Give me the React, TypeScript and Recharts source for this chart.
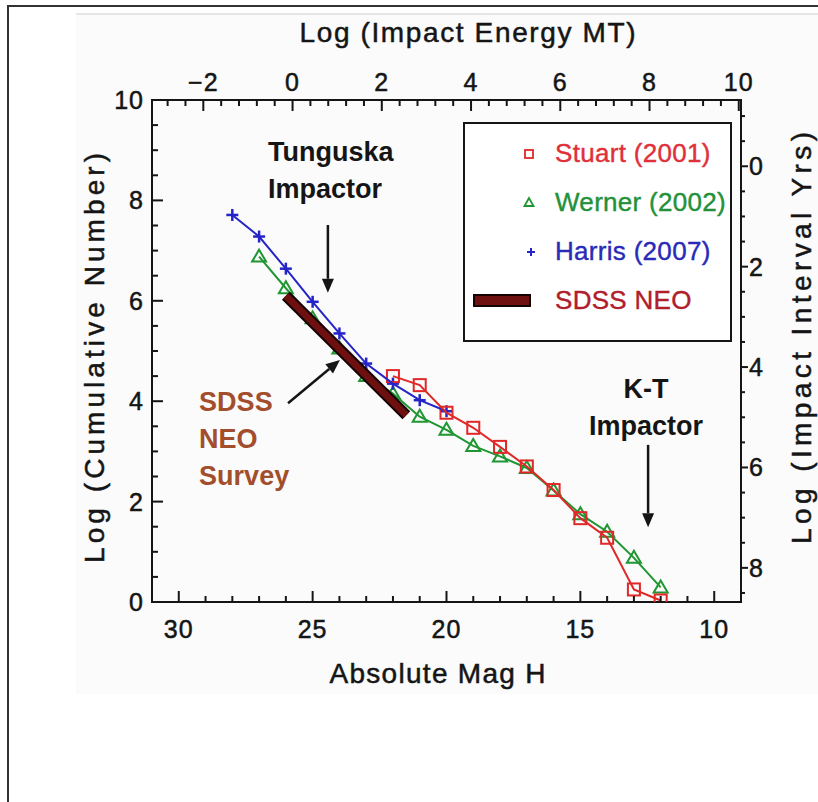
import React from "react";
import {
  ComposedChart,
  Line,
  XAxis,
  YAxis,
  Legend,
  Label,
  ReferenceLine,
  ReferenceDot,
} from "recharts";

// Absolute magnitude H (x) vs log cumulative number (y)
const harrisH = [28, 27, 26, 25, 24, 23, 22, 21, 20];
const harrisN = [7.71, 7.28, 6.64, 5.98, 5.35, 4.75, 4.35, 4.02, 3.8];

const wernerH = [27, 26, 25, 24, 23, 22, 21, 20, 19, 18, 17, 16, 15, 14, 13, 12];
const wernerN = [6.88, 6.25, 5.65, 5.05, 4.5, 4.15, 3.69, 3.43, 3.11, 2.9, 2.67, 2.22, 1.75, 1.4, 0.88, 0.29];

const stuartH = [22, 21, 20, 19, 18, 17, 16, 15, 14, 13, 12];
const stuartN = [4.5, 4.32, 3.77, 3.47, 3.09, 2.7, 2.23, 1.67, 1.28, 0.25, 0.03];

const sdssH = [26, 21.5];
const sdssN = [6.1, 3.72];

// axes
const hDomain = [9, 31];
const nDomain = [0, 10];
const energyDomain = [-3.15, 10.05]; // log E = 15.45 - 0.6 H
const intervalDomain = [-1.32, 8.68]; // log T = 8.68 - log N

const bottomLabels = [10, 15, 20, 25, 30];
const leftLabels = [0, 2, 4, 6, 8, 10];
const topLabels = [-2, 0, 2, 4, 6, 8, 10];
const rightLabels = [0, 2, 4, 6, 8];

const legendOrder = ["Stuart (2001)", "Werner (2002)", "Harris (2007)", "SDSS NEO"];

const annotations = [
  { h: 26.67, n: 8.78, lines: ["Tunguska", "Impactor"], color: "#151515", anchor: "start" },
  { h: 29.24, n: 3.8, lines: ["SDSS", "NEO", "Survey"], color: "#a24e2c", anchor: "start" },
  { h: 12.55, n: 4.06, lines: ["K-T", "Impactor"], color: "#151515", anchor: "middle" },
];

const arrows = [
  { h1: 24.43, n1: 7.51, h2: 24.43, n2: 6.16 },
  { h1: 25.92, n1: 3.96, h2: 23.98, n2: 4.82 },
  { h1: 12.47, n1: 3.13, h2: 12.47, n2: 1.49 },
];

const FONT = "'Liberation Sans', Arial, sans-serif";
const INK = "#151515";
const RED = "#e02828";
const GREEN = "#1f9632";
const BLUE = "#2424c8";
const MAROON = "#6e1010";

const textColors: Record<string, string> = {
  "Stuart (2001)": "#e0303a",
  "Werner (2002)": "#23913a",
  "Harris (2007)": "#2a2ab8",
  "SDSS NEO": "#b0202a",
};

const toPoints = (hs: number[], ns: number[]) => hs.map((h, i) => ({ h, n: ns[i] }));
const harris = toPoints(harrisH, harrisN);
const werner = toPoints(wernerH, wernerN);
const stuart = toPoints(stuartH, stuartN);
const sdss = toPoints(sdssH, sdssN);
// same Stuart points expressed on the secondary (energy / interval) scales, used only to bind those axes
const stuartSecondary = stuart.map((p) => ({ e: 15.45 - 0.6 * p.h, t: 8.68 - p.n }));

const steps = (from: number, to: number, step: number) => {
  const out: number[] = [];
  for (let v = from; v <= to + 1e-9; v += step) out.push(Math.round(v * 100) / 100);
  return out;
};

const bottomTicks = steps(10, 30, 1);
const leftTicks = steps(0, 10, 0.5);
const topTicks = steps(-2.8, 10, 0.4);
const rightTicks = steps(-1, 8.5, 0.5);

const fmt = (v: number) => (v < 0 ? `\u2212${Math.abs(v)}` : `${v}`);

type Side = "bottom" | "top" | "left" | "right";

const makeTick = (side: Side, labels: number[]) => (props: any) => {
  const { x, y, payload, index } = props;
  const v = Math.round(payload.value * 100) / 100;
  const major = labels.includes(v);
  const len = major ? 11 : 6;
  const common = { fontFamily: FONT, fontSize: 25, fill: INK, stroke: INK, strokeWidth: 0.5, letterSpacing: 1 };
  let line = null;
  let text = null;
  if (side === "bottom") {
    line = <line x1={x} x2={x} y1={y} y2={y - len} />;
    text = <text x={x} y={y + 36} textAnchor="middle" {...common}>{fmt(v)}</text>;
  } else if (side === "top") {
    line = <line x1={x} x2={x} y1={y} y2={y + len} />;
    text = <text x={x} y={y - 9} textAnchor="middle" {...common}>{fmt(v)}</text>;
  } else if (side === "left") {
    line = <line x1={x} x2={x + len} y1={y} y2={y} />;
    text = <text x={x - 8} y={y + 9} textAnchor="end" {...common}>{fmt(v)}</text>;
  } else {
    const out = major ? 7 : 4;
    line = <line x1={x} x2={x + out} y1={y} y2={y} />;
    text = <text x={x + 8} y={y + 9} textAnchor="start" {...common}>{fmt(v)}</text>;
  }
  return (
    <g key={`${side}-${index}`}>
      <g stroke={INK} strokeWidth={2}>{line}</g>
      {major ? text : null}
    </g>
  );
};

const squareDot = (props: any) => {
  const { cx, cy, index } = props;
  if (cx == null || cy == null) return <g key={index} />;
  return <rect key={index} x={cx - 6} y={cy - 6} width={12} height={12} fill="none" stroke={RED} strokeWidth={2} />;
};

const triangleDot = (props: any) => {
  const { cx, cy, index } = props;
  if (cx == null || cy == null) return <g key={index} />;
  return (
    <polygon
      key={index}
      points={`${cx},${cy - 7} ${cx - 7},${cy + 5} ${cx + 7},${cy + 5}`}
      fill="none"
      stroke={GREEN}
      strokeWidth={2}
    />
  );
};

const plusDot = (props: any) => {
  const { cx, cy, index } = props;
  if (cx == null || cy == null) return <g key={index} />;
  return (
    <g key={index} stroke={BLUE} strokeWidth={2.5}>
      <line x1={cx - 6} x2={cx + 6} y1={cy} y2={cy} />
      <line x1={cx} x2={cx} y1={cy - 6} y2={cy + 6} />
    </g>
  );
};

const ArrowShape = (p: any) => {
  const { x1, y1, x2, y2 } = p;
  const a = Math.atan2(y2 - y1, x2 - x1);
  const L = 14;
  const W = 6;
  const bx = x2 - L * Math.cos(a);
  const by = y2 - L * Math.sin(a);
  const pts = [
    [x2, y2],
    [bx - W * Math.sin(a), by + W * Math.cos(a)],
    [bx + W * Math.sin(a), by - W * Math.cos(a)],
  ];
  return (
    <g>
      <line x1={x1} y1={y1} x2={bx} y2={by} stroke={INK} strokeWidth={2.5} />
      <polygon points={pts.map((q) => q.join(",")).join(" ")} fill={INK} />
    </g>
  );
};

const annotationShape = (a: (typeof annotations)[number]) => (p: any) => {
  const { cx, cy } = p;
  return (
    <text
      x={cx}
      y={cy}
      textAnchor={a.anchor as any}
      fontFamily={FONT}
      fontSize={27}
      fontWeight="bold"
      fill={a.color}
    >
      {a.lines.map((s, i) => (
        <tspan key={s} x={cx} dy={i === 0 ? 0 : 37}>
          {s}
        </tspan>
      ))}
    </text>
  );
};

const legendMarker = (name: string) => {
  if (name === "Stuart (2001)") return <rect x={60} y={6} width={8} height={8} fill="none" stroke={RED} strokeWidth={1.8} />;
  if (name === "Werner (2002)") return <polygon points="64,5 59.5,13 68.5,13" fill="none" stroke={GREEN} strokeWidth={1.8} />;
  if (name === "Harris (2007)")
    return (
      <g stroke={BLUE} strokeWidth={2}>
        <line x1={62} x2={70} y1={10} y2={10} />
        <line x1={66} x2={66} y1={6} y2={14} />
      </g>
    );
  return <rect x={9} y={4} width={56} height={11} fill={MAROON} stroke="#150303" strokeWidth={2} />;
};

const LegendBox = (props: any) => {
  const items = (props.payload ?? [])
    .filter((p: any) => legendOrder.includes(p.value))
    .sort((a: any, b: any) => legendOrder.indexOf(a.value) - legendOrder.indexOf(b.value));
  return (
    <div
      style={{
        width: 269,
        height: 220,
        boxSizing: "border-box",
        border: `2px solid ${INK}`,
        background: "#fff",
        paddingTop: 5,
        fontFamily: FONT,
      }}
    >
      {items.map((it: any) => (
        <div key={it.value} style={{ display: "flex", alignItems: "center", height: 49 }}>
          <svg width={88} height={20} style={{ flex: "none" }}>
            {legendMarker(it.value)}
          </svg>
          <span
            style={{
              color: textColors[it.value],
              fontSize: 26,
              letterSpacing: 0.3,
              marginLeft: 2,
              whiteSpace: "nowrap",
              WebkitTextStroke: "0.4px currentColor",
            }}
          >
            {it.value}
          </span>
        </div>
      ))}
    </div>
  );
};

const titleStyle = { fontFamily: FONT, fontSize: 28, fill: INK, stroke: INK, strokeWidth: 0.5 };

export default function App() {
  const axisLine = { stroke: INK, strokeWidth: 2, strokeLinecap: "square" as const };
  return (
    <div style={{ position: "fixed", left: 0, top: 0, width: 818, height: 802, overflow: "hidden", background: "#fff" }}>
      <div
        style={{
          position: "absolute",
          left: 7,
          top: 5,
          width: 900,
          height: 900,
          borderLeft: "2px solid #333",
          borderTop: "2px solid #333",
        }}
      />
      <div
        style={{
          position: "absolute",
          left: 76,
          top: 13,
          width: 742,
          height: 679,
          background: "#fafbfa",
          borderTop: "2px solid #e6e6e6",
        }}
      />
      <div style={{ position: "absolute", left: 0, top: 0 }}>
        <ComposedChart width={818} height={802} margin={{ top: 40, right: 17, bottom: 110, left: 82 }}>
          <XAxis
            xAxisId="bottom"
            dataKey="h"
            type="number"
            domain={hDomain}
            reversed
            allowDataOverflow
            ticks={bottomTicks}
            interval={0}
            height={90}
            tickSize={0}
            tickMargin={0}
            tickLine={false}
            axisLine={axisLine}
            tick={makeTick("bottom", bottomLabels)}
          >
            <Label
              content={(p: any) => {
                const vb = p.viewBox;
                return (
                  <text x={vb.x + vb.width / 2 - 9} y={vb.y + 81} textAnchor="middle" textLength={216} lengthAdjust="spacing" {...titleStyle}>
                    Absolute Mag H
                  </text>
                );
              }}
            />
          </XAxis>
          <XAxis
            xAxisId="top"
            orientation="top"
            dataKey="e"
            type="number"
            domain={energyDomain}
            allowDataOverflow
            ticks={topTicks}
            interval={0}
            height={60}
            tickSize={0}
            tickMargin={0}
            tickLine={false}
            axisLine={axisLine}
            tick={makeTick("top", topLabels)}
          >
            <Label
              content={(p: any) => {
                const vb = p.viewBox;
                return (
                  <text x={vb.x + vb.width / 2 + 21} y={vb.y + 2} textAnchor="middle" textLength={336} lengthAdjust="spacing" {...titleStyle}>
                    Log (Impact Energy MT)
                  </text>
                );
              }}
            />
          </XAxis>
          <YAxis
            yAxisId="left"
            type="number"
            domain={nDomain}
            allowDataOverflow
            ticks={leftTicks}
            interval={0}
            width={70}
            tickSize={0}
            tickMargin={0}
            tickLine={false}
            axisLine={axisLine}
            tick={makeTick("left", leftLabels)}
          >
            <Label
              content={(p: any) => {
                const vb = p.viewBox;
                const x = vb.x + 22;
                const y = vb.y + vb.height / 2 + 7;
                return (
                  <text x={x} y={y} transform={`rotate(-90 ${x} ${y})`} textAnchor="middle" textLength={410} lengthAdjust="spacing" {...titleStyle}>
                    Log (Cumulative Number)
                  </text>
                );
              }}
            />
          </YAxis>
          <YAxis
            yAxisId="right"
            orientation="right"
            type="number"
            domain={intervalDomain}
            reversed
            allowDataOverflow
            ticks={rightTicks}
            interval={0}
            width={60}
            tickSize={0}
            tickMargin={0}
            tickLine={false}
            axisLine={axisLine}
            tick={makeTick("right", rightLabels)}
          >
            <Label
              content={(p: any) => {
                const vb = p.viewBox;
                const x = vb.x + 70;
                const y = vb.y + vb.height / 2 - 13;
                return (
                  <text x={x} y={y} transform={`rotate(-90 ${x} ${y})`} textAnchor="middle" textLength={412} lengthAdjust="spacing" {...titleStyle}>
                    Log (Impact Interval Yrs)
                  </text>
                );
              }}
            />
          </YAxis>

          <Line
            data={stuartSecondary}
            dataKey="t"
            name="secondary"
            legendType="none"
            xAxisId="top"
            yAxisId="right"
            stroke="none"
            dot={false}
            activeDot={false}
            isAnimationActive={false}
          />
          <Line
            data={werner}
            dataKey="n"
            name="Werner (2002)"
            xAxisId="bottom"
            yAxisId="left"
            type="linear"
            stroke={GREEN}
            strokeWidth={2}
            dot={triangleDot}
            activeDot={false}
            isAnimationActive={false}
          />
          <Line
            data={sdss}
            dataKey="n"
            name="SDSS outline"
            legendType="none"
            xAxisId="bottom"
            yAxisId="left"
            type="linear"
            stroke="#150303"
            strokeWidth={11}
            dot={false}
            activeDot={false}
            isAnimationActive={false}
            {...({ zIndex: 650 } as any)}
          />
          <Line
            data={sdss}
            dataKey="n"
            name="SDSS NEO"
            xAxisId="bottom"
            yAxisId="left"
            type="linear"
            stroke={MAROON}
            strokeWidth={7}
            dot={false}
            activeDot={false}
            isAnimationActive={false}
            {...({ zIndex: 651 } as any)}
          />
          <Line
            data={harris}
            dataKey="n"
            name="Harris (2007)"
            xAxisId="bottom"
            yAxisId="left"
            type="linear"
            stroke={BLUE}
            strokeWidth={2}
            dot={plusDot}
            activeDot={false}
            isAnimationActive={false}
            {...({ zIndex: 660 } as any)}
          />
          <Line
            data={stuart}
            dataKey="n"
            name="Stuart (2001)"
            xAxisId="bottom"
            yAxisId="left"
            type="linear"
            stroke={RED}
            strokeWidth={2}
            dot={squareDot}
            activeDot={false}
            isAnimationActive={false}
            {...({ zIndex: 670 } as any)}
          />

          {arrows.map((a, i) => (
            <ReferenceLine
              key={`arrow-${i}`}
              xAxisId="bottom"
              yAxisId="left"
              segment={[
                { x: a.h1, y: a.n1 },
                { x: a.h2, y: a.n2 },
              ]}
              shape={ArrowShape}
              {...({ zIndex: 700 } as any)}
            />
          ))}
          {annotations.map((a, i) => (
            <ReferenceDot
              key={`note-${i}`}
              xAxisId="bottom"
              yAxisId="left"
              x={a.h}
              y={a.n}
              r={1}
              shape={annotationShape(a)}
              {...({ zIndex: 700 } as any)}
            />
          ))}

          <Legend
            layout="vertical"
            align="center"
            verticalAlign="middle"
            content={LegendBox}
            wrapperStyle={{ left: 463, top: 122, width: 269, height: 220 }}
          />
        </ComposedChart>
      </div>
    </div>
  );
}
